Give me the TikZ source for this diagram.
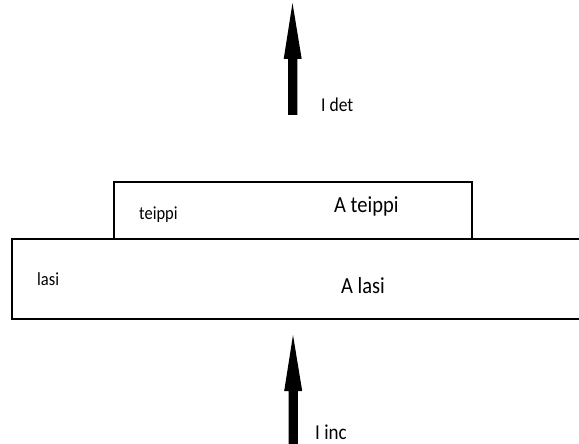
\documentclass[tikz,border=0pt]{standalone}
\usepackage{fontspec}
\setmainfont{Carlito}
\begin{document}
\begin{tikzpicture}[x=1pt,y=-1pt,
  layer/.style={draw=black,line width=1.6pt},
  lbl/.style={inner sep=0pt,anchor=base west},
  small/.style={lbl,font=\fontsize{16.5}{18}\selectfont},
  big/.style={lbl,font=\fontsize{20.5}{24}\selectfont},
  beamlbl/.style={lbl,font=\fontsize{17.5}{21}\selectfont}]
\useasboundingbox (0,0) rectangle (579,444);
\clip (0,0) rectangle (579,444);

% glass plate (runs off the right edge) and tape on top of it
\draw[layer] (11.7,239) rectangle (590,319);
\draw[layer] (113.7,239) -- (113.7,181.7) -- (471.7,181.7) -- (471.7,239);

% beam arrow: tip at the named coordinate, shaft pointing down
\newcommand\beamarrow[1]{%
  \fill (#1) -- ++(9.2,56) -- ++(-4.4,0) -- ++(0,56) -- ++(-9.2,0)
        -- ++(0,-56) -- ++(-4.4,0) -- cycle;}
\coordinate (detT) at (292.5,3);
\coordinate (incT) at (293,335);
\beamarrow{detT}
\beamarrow{incT}

% labels (slightly tall letters)
\newcommand\tall[1]{\scalebox{1}[1.12]{#1}}
\node[beamlbl] (ldet) at (321,111) {\tall{I det}};
\node[beamlbl,font=\fontsize{19}{22}\selectfont] (linc) at (315,439) {\tall{I inc}};
\node[small] (tape) at (139,219) {\tall{teippi}};
\node[big] (atape) at (334,212) {\tall{A teippi}};
\node[small] (glass) at (37,285) {\tall{lasi}};
\node[big] (aglass) at (341,293) {\tall{A lasi}};
\end{tikzpicture}
\end{document}
